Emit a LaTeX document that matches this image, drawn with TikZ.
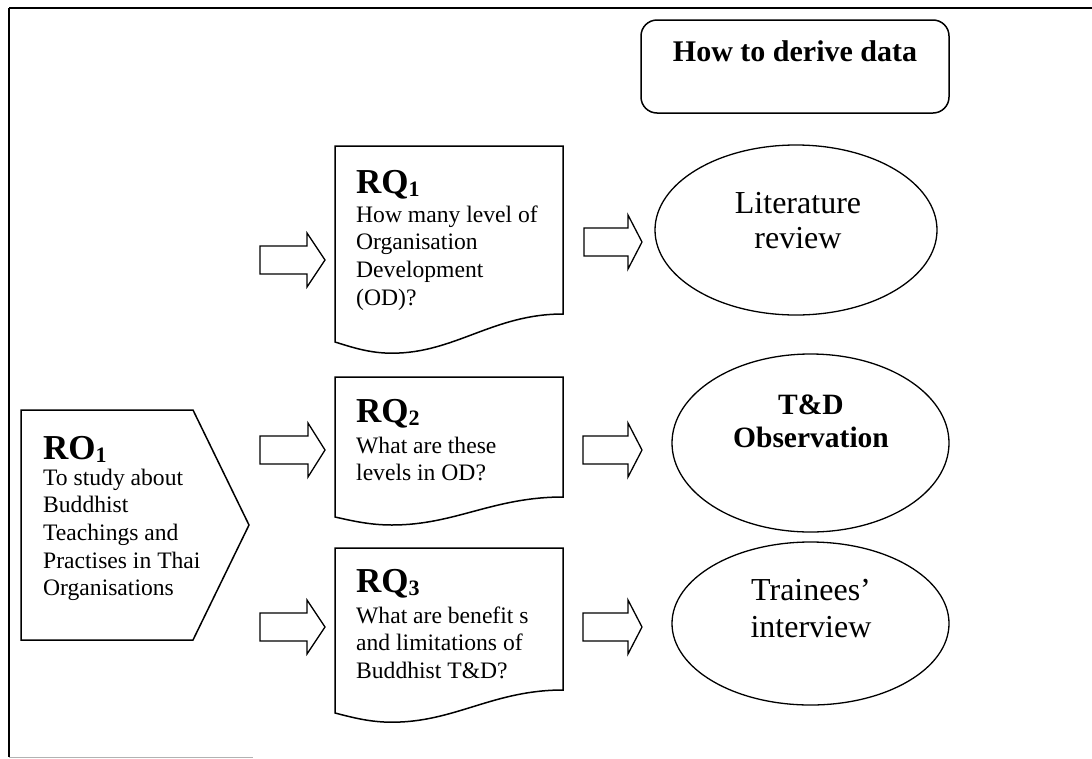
\documentclass[tikz,border=0pt]{standalone}
\usepackage{fontspec}
\setmainfont{Liberation Serif}
\usetikzlibrary{shapes.geometric}
% document shape: name, left, top, right, bottom of right side, wave amplitude
\newcommand\rqdoc[6]{%
  \draw[shapeline] (#2,#3) -- (#4,#3) -- (#4,#5)
    .. controls (#4-70,#5) and (#2+120,#5+1.4*#6) .. (#2+57,#5+1.4*#6)
    .. controls (#2+35,#5+1.4*#6) and (#2+18,#5+1.2*#6) .. (#2,#5+#6) -- cycle;
  \coordinate (#1) at (#2,#3);}
% block arrow: name, x of tail, y of axis, length, head length
\newcommand\blockarrow[5]{%
  \draw[arrowline] (#2,#3-14) -- (#2+#4-#5,#3-14) -- (#2+#4-#5,#3-27) -- (#2+#4,#3)
    -- (#2+#4-#5,#3+27) -- (#2+#4-#5,#3+14) -- (#2,#3+14) -- cycle;
  \coordinate (#1) at (#2+#4,#3);}
\begin{document}
\begin{tikzpicture}[x=1pt,y=-1pt,
  shapeline/.style={draw=black,line width=1.5pt,line join=miter},
  arrowline/.style={draw=black,line width=1.3pt,line join=miter},
  bodytext/.style={anchor=north west,inner sep=0pt,align=left,font=\fontsize{23.6}{27.6}\selectfont},
  headtext/.style={anchor=base west,inner sep=0pt,font=\fontsize{35}{40}\selectfont\bfseries},
  oval/.style={draw=black,line width=1.3pt,ellipse,inner sep=0pt},
  ovaltext/.style={anchor=north,inner sep=0pt,align=center,font=\fontsize{32}{35}\selectfont}]
\useasboundingbox (0,0) rectangle (1092,758);

% frame
\draw[line width=2pt] (9,8) -- (1092,8);
\draw[line width=1.5pt] (9,8) -- (9,757);
\draw[gray!60,line width=1pt] (9,757) -- (253,757);

% header box
\node[draw,line width=1.5pt,rounded corners=16pt,minimum width=308pt,minimum height=93pt,inner sep=0pt] (how) at (795,66.5) {};
\node[anchor=base,inner sep=0pt,font=\fontsize{30}{34}\selectfont\bfseries] (howt) at (795,61) {How to derive data};

% RO1
\draw[shapeline] (21,410) -- (193,410) -- (249,525) -- (193,640) -- (21,640) -- cycle;
\node[headtext] (ro1h) at (43,459) {RO\raisebox{-3pt}{\fontsize{22}{24}\selectfont 1}};
\node[bodytext] (ro1b) at (43,465.7) {\strut To study about\\Buddhist\\Teachings and\\Practises in Thai\\Organisations};

% RQ documents
\rqdoc{rq1}{335}{146}{563}{314}{28}
\node[headtext] (rq1h) at (356,193) {RQ\raisebox{-3pt}{\fontsize{22}{24}\selectfont 1}};
\node[bodytext] (rq1b) at (356,202.7) {\strut How many level of\\Organisation\\Development\\(OD)?};

\rqdoc{rq2}{335}{377}{563}{497}{20}
\node[headtext] (rq2h) at (356,422) {RQ\raisebox{-3pt}{\fontsize{22}{24}\selectfont 2}};
\node[bodytext] (rq2b) at (356,433.7) {\strut What are these\\levels in OD?};

\rqdoc{rq3}{335}{548}{563}{690}{23}
\node[headtext] (rq3h) at (356,592) {RQ\raisebox{-3pt}{\fontsize{22}{24}\selectfont 3}};
\node[bodytext] (rq3b) at (356,603.7) {\strut What are benefit s\\and limitations of\\Buddhist T\&D?};

% block arrows
\blockarrow{la1}{260}{260}{65}{18}
\blockarrow{la2}{260}{450}{65}{17}
\blockarrow{la3}{260}{627}{65}{18}
\blockarrow{ra1}{584}{242}{58}{14}
\blockarrow{ra2}{583}{450}{59}{14}
\blockarrow{ra3}{583}{627}{59}{14}

% methods
\node[oval,minimum width=282pt,minimum height=170pt] (lit) at (796,230) {};
\node[ovaltext] (litt) at (798,188.5) {\strut Literature\\review};
\node[oval,minimum width=277pt,minimum height=178pt] (obs) at (810.5,443) {};
\node[ovaltext,font=\fontsize{29.5}{33}\selectfont\bfseries] (obst) at (811,390.9) {\strut T\&D\\Observation};
\node[oval,minimum width=277pt,minimum height=163pt] (int) at (810.5,623.5) {};
\node[ovaltext,font=\fontsize{32}{37}\selectfont] (intt) at (811,574.1) {\strut Trainees’\\interview};
\end{tikzpicture}
\end{document}
